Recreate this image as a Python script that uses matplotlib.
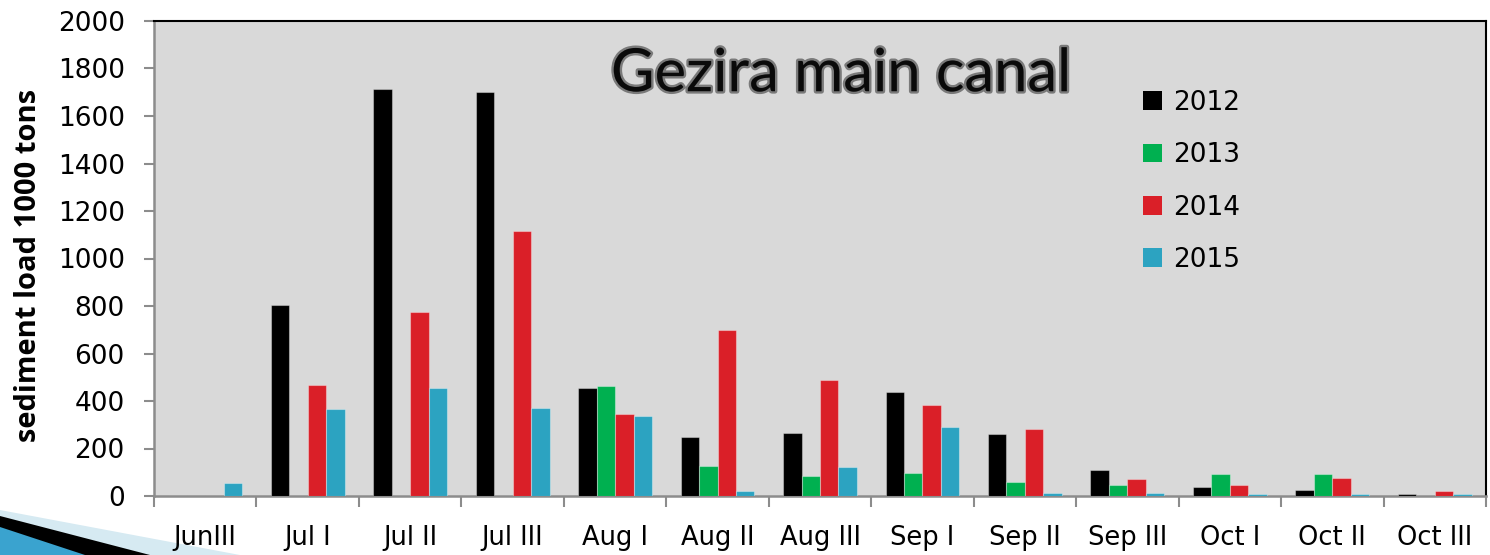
import numpy as np
import matplotlib
matplotlib.use("Agg")
import matplotlib.pyplot as plt
import matplotlib.patheffects as pe
from matplotlib.patches import Polygon, Patch

# ten-day periods
periods = ["JunIII", "Jul I", "Jul II", "Jul III", "Aug I", "Aug II", "Aug III",
           "Sep I", "Sep II", "Sep III", "Oct I", "Oct II", "Oct III"]

# sediment load, 1000 tons
load_2012 = [0, 804, 1714, 1701, 455, 248, 265, 438, 262, 109, 38, 25, 7]
load_2013 = [0, 0, 0, 0, 463, 126, 84, 97, 59, 46, 93, 92, 0]
load_2014 = [0, 467, 775, 1116, 345, 697, 488, 383, 282, 72, 46, 76, 21]
load_2015 = [55, 366, 455, 370, 337, 21, 122, 291, 12, 12, 10, 10, 10]

years = ["2012", "2013", "2014", "2015"]
colors = ["#000000", "#00b050", "#da1f28", "#2ca3c1"]

fig = plt.figure(figsize=(14.9, 5.55), dpi=100)
ax = fig.add_axes([154 / 1490, 1 - 496 / 555, (1486 - 154) / 1490, (496 - 21) / 555])
ax.set_facecolor("#d9d9d9")

x = np.arange(len(periods))
width = 0.18
offsets = [-1.5 * width, -0.5 * width, 0.5 * width, 1.5 * width]
series = [load_2012, load_2013, load_2014, load_2015]
for vals, off, c in zip(series, offsets, colors):
    ax.bar(x + off, vals, width, color=c, edgecolor=(1, 1, 1, 0.35), linewidth=0.8, zorder=3)

ax.set_xlim(-0.5, len(periods) - 0.5)
ax.set_ylim(0, 2000)
ax.set_yticks(range(0, 2001, 200))
ax.tick_params(axis="y", labelsize=19, length=7, width=1.5, color="#8c8c8c", pad=14)

# ticks at group boundaries, labels at centres
ax.set_xticks(np.arange(-0.5, len(periods), 1.0))
ax.set_xticklabels([])
ax.set_xticks(x, minor=True)
ax.set_xticklabels(periods, minor=True, fontsize=18.5)
ax.tick_params(axis="x", which="major", length=8, width=1.5, color="#8c8c8c")
ax.tick_params(axis="x", which="minor", length=0, pad=21)

for s in ["left", "bottom"]:
    ax.spines[s].set_color("#8c8c8c")
    ax.spines[s].set_linewidth(1.8)
for s in ["top", "right"]:
    ax.spines[s].set_color("#000000")
    ax.spines[s].set_linewidth(1.5)

ax.set_ylabel("sediment load 1000 tons", fontsize=21, family="Open Sans", fontweight="bold")
ax.yaxis.set_label_coords(-0.083, 0.485)

ax.text(0.516, 0.888, "Gezira main canal", transform=ax.transAxes, ha="center", va="center",
        fontsize=43, family="Lato", color="#0a0a0a",
        path_effects=[pe.withStroke(linewidth=3.5, foreground="#5a5a5a", alpha=0.75)])

handles = [Patch(facecolor=c, edgecolor="none") for c in colors]
ax.legend(handles, years, loc="upper left", bbox_to_anchor=(0.725, 0.905), frameon=False,
          fontsize=19, handlelength=0.72, handleheight=0.72, handletextpad=0.4,
          labelspacing=1.0)

# slide decoration in bottom-left corner
H = 555.0
def fpoly(pts, color):
    fig.patches.append(Polygon([(px / 1490, 1 - py / H) for px, py in pts], closed=True,
                               transform=fig.transFigure, facecolor=color, edgecolor="none",
                               zorder=-1))

fpoly([(0, 510), (240, 555), (0, 555)], "#d6eaf2")
fpoly([(0, 516), (150, 555), (0, 555)], "#000000")
fpoly([(0, 527), (85, 555), (0, 555)], "#3aa3cf")

fig.savefig("out.png", dpi=100, facecolor="white")
